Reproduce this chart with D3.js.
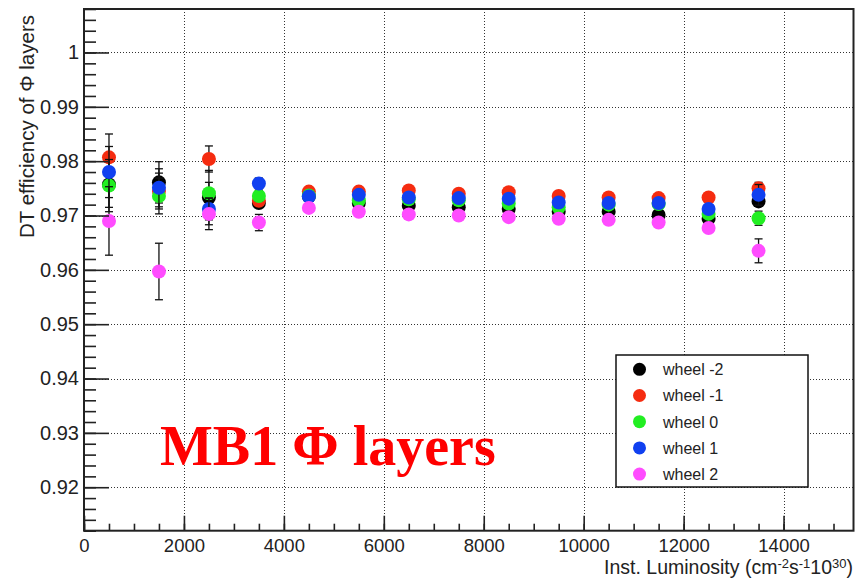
<!DOCTYPE html>
<html>
<head>
<meta charset="utf-8">
<script src="https://cdn.jsdelivr.net/npm/d3@7"></script>
<style>
  body { margin: 0; background: #fff; }
  svg { display: block; }
  .tick text { font-family: "Liberation Sans", Arial, sans-serif; fill: #222; }
</style>
</head>
<body>
<svg id="chart" width="865" height="582"></svg>
<script>
// luminosity bins (x)
const luminosity = [500, 1500, 2500, 3500, 4500, 5500, 6500, 7500, 8500, 9500, 10500, 11500, 12500, 13500];

// efficiency per wheel
const wheelM2 = [0.9757, 0.9761, 0.9733, 0.9723, 0.9735, 0.9723, 0.9718, 0.9715, 0.9712, 0.9707, 0.9707, 0.9701, 0.9694, 0.9726];
const wheelM1 = [0.9807, 0.9745, 0.9804, 0.9727, 0.9744, 0.9744, 0.9746, 0.9740, 0.9743, 0.9736, 0.9733, 0.9732, 0.9733, 0.9750];
const wheel0  = [0.9755, 0.9736, 0.9741, 0.9736, 0.9737, 0.9728, 0.9730, 0.9728, 0.9722, 0.9715, 0.9720, 0.9721, 0.9703, 0.9695];
const wheel1  = [0.9780, 0.9751, 0.9712, 0.9759, 0.9735, 0.9738, 0.9733, 0.9732, 0.9731, 0.9724, 0.9723, 0.9723, 0.9712, 0.9738];
const wheel2  = [0.9690, 0.9597, 0.9703, 0.9687, 0.9714, 0.9707, 0.9702, 0.9700, 0.9697, 0.9694, 0.9692, 0.9687, 0.9677, 0.9635];

// symmetric errors
const errM2 = [0.0042, 0.0038, 0.0050, 0.0006, 0.0004, 0.0004, 0.0004, 0.0004, 0.0004, 0.0004, 0.0004, 0.0005, 0.0005, 0.0006];
const errM1 = [0.0043, 0.0033, 0.0024, 0.0010, 0.0004, 0.0004, 0.0004, 0.0004, 0.0004, 0.0004, 0.0004, 0.0005, 0.0006, 0.0011];
const err0  = [0.0048, 0.0033, 0.0020, 0.0010, 0.0004, 0.0004, 0.0004, 0.0004, 0.0004, 0.0004, 0.0004, 0.0005, 0.0006, 0.0013];
const err1  = [0.0047, 0.0035, 0.0020, 0.0010, 0.0004, 0.0004, 0.0004, 0.0004, 0.0004, 0.0004, 0.0004, 0.0005, 0.0006, 0.0019];
const err2  = [0.0063, 0.0052, 0.0029, 0.0015, 0.0004, 0.0004, 0.0004, 0.0004, 0.0004, 0.0004, 0.0004, 0.0005, 0.0006, 0.0022];

const seriesNames = ['wheel -2', 'wheel -1', 'wheel 0', 'wheel 1', 'wheel 2'];
const seriesColors = ['#000000', '#f52c10', '#22ee22', '#1040f0', '#ff4cff'];

const xMajor = [0, 2000, 4000, 6000, 8000, 10000, 12000, 14000];
const yMajor = [0.92, 0.93, 0.94, 0.95, 0.96, 0.97, 0.98, 0.99, 1.0];

const svg = d3.select('#chart');
const margin = { top: 9, right: 11.5, bottom: 51.3, left: 84 };
const W = +svg.attr('width'), H = +svg.attr('height');
const w = W - margin.left - margin.right;
const h = H - margin.top - margin.bottom;

const x = d3.scaleLinear().domain([0, 15400]).range([0, w]);
const y = d3.scaleLinear().domain([0.912, 1.008]).range([h, 0]);

const g = svg.append('g').attr('transform', `translate(${margin.left},${margin.top})`);

// dotted grid at major ticks
const grid = g.append('g').attr('stroke', '#333').attr('stroke-width', 1).attr('stroke-dasharray', '1,2');
grid.selectAll('line.v')
  .data(xMajor.filter(d => d > 0))
  .enter().append('line')
  .attr('x1', d => Math.round(x(d)) + 0.5).attr('x2', d => Math.round(x(d)) + 0.5)
  .attr('y1', 0).attr('y2', h);
grid.selectAll('line.h')
  .data(yMajor)
  .enter().append('line')
  .attr('y1', d => Math.round(y(d)) + 0.5).attr('y2', d => Math.round(y(d)) + 0.5)
  .attr('x1', 0).attr('x2', w);

// data: error bars then markers, graph after graph (ROOT draw order)
const allValues = [wheelM2, wheelM1, wheel0, wheel1, wheel2];
const allErrors = [errM2, errM1, err0, err1, err2];

allValues.forEach((vals, si) => {
  const pts = vals.map((v, i) => ({ x: luminosity[i], v: v, e: allErrors[si][i] }));
  const sg = g.append('g');

  const eb = sg.append('g').attr('stroke', '#111').attr('stroke-width', 1.3);
  eb.selectAll('line.bar')
    .data(pts).enter().append('line')
    .attr('x1', d => x(d.x)).attr('x2', d => x(d.x))
    .attr('y1', d => y(d.v + d.e)).attr('y2', d => y(d.v - d.e));
  eb.selectAll('line.capTop')
    .data(pts).enter().append('line')
    .attr('x1', d => x(d.x) - 4).attr('x2', d => x(d.x) + 4)
    .attr('y1', d => y(d.v + d.e)).attr('y2', d => y(d.v + d.e));
  eb.selectAll('line.capBot')
    .data(pts).enter().append('line')
    .attr('x1', d => x(d.x) - 4).attr('x2', d => x(d.x) + 4)
    .attr('y1', d => y(d.v - d.e)).attr('y2', d => y(d.v - d.e));

  sg.selectAll('circle')
    .data(pts).enter().append('circle')
    .attr('cx', d => x(d.x))
    .attr('cy', d => y(d.v))
    .attr('r', 7)
    .attr('fill', seriesColors[si]);
});

// axes: ticks inside the frame, ROOT style
const yAxis = d3.axisLeft(y).tickValues(yMajor).tickSize(-25).tickPadding(5)
  .tickFormat(d => d === 1 ? '1' : d3.format('.2f')(d));
const yMinor = d3.axisLeft(y).tickValues(d3.range(912, 1009, 2).map(d => d / 1000))
  .tickSize(-12).tickFormat('');
const xAxis = d3.axisBottom(x).tickValues(xMajor).tickSize(-15).tickPadding(8.5)
  .tickFormat(d3.format('d'));
const xMinor = d3.axisBottom(x).tickValues(d3.range(0, 15401, 500))
  .tickSize(-7).tickFormat('');

[[yMinor, 'translate(0,0)'], [xMinor, `translate(0,${h})`]].forEach(([ax, tr]) => {
  const a = g.append('g').attr('transform', tr).call(ax);
  a.select('.domain').remove();
  a.selectAll('.tick line').attr('stroke', '#222').attr('stroke-width', 1.6);
});

const ya = g.append('g').call(yAxis);
ya.select('.domain').remove();
ya.selectAll('.tick line').attr('stroke', '#222').attr('stroke-width', 1.6);
ya.selectAll('.tick text').attr('font-size', 20);

const xa = g.append('g').attr('transform', `translate(0,${h})`).call(xAxis);
xa.select('.domain').remove();
xa.selectAll('.tick line').attr('stroke', '#222').attr('stroke-width', 1.6);
xa.selectAll('.tick text').attr('font-size', 18.5);

// frame
g.append('rect')
  .attr('x', 0).attr('y', 0).attr('width', w).attr('height', h)
  .attr('fill', 'none').attr('stroke', '#222').attr('stroke-width', 2);

// axis titles
svg.append('text')
  .attr('transform', 'rotate(-90)')
  .attr('x', -15).attr('y', 34)
  .attr('text-anchor', 'end')
  .attr('font-family', '"Liberation Sans", Arial, sans-serif')
  .attr('font-size', 20.5)
  .attr('fill', '#222')
  .text('DT efficiency of Φ layers');

const xt = svg.append('text')
  .attr('x', 853).attr('y', 574)
  .attr('text-anchor', 'end')
  .attr('font-family', '"Liberation Sans", Arial, sans-serif')
  .attr('font-size', 19.5)
  .attr('fill', '#222');
xt.append('tspan').text('Inst. Luminosity (cm');
xt.append('tspan').attr('dy', -6.5).attr('font-size', 13).text('-2');
xt.append('tspan').attr('dy', 6.5).text('s');
xt.append('tspan').attr('dy', -6.5).attr('font-size', 13).text('-1');
xt.append('tspan').attr('dy', 6.5).text('10');
xt.append('tspan').attr('dy', -6.5).attr('font-size', 13).text('30');
xt.append('tspan').attr('dy', 6.5).text(')');

// legend
const lg = svg.append('g').attr('transform', 'translate(616,355)');
lg.append('rect')
  .attr('width', 192).attr('height', 132)
  .attr('fill', '#fff').attr('stroke', '#111').attr('stroke-width', 1.5);
const le = lg.selectAll('g.entry')
  .data(seriesNames).enter().append('g')
  .attr('transform', (d, i) => `translate(0,${14.3 + i * 26.2})`);
le.append('circle')
  .attr('cx', 23.5).attr('cy', 0).attr('r', 6.5)
  .attr('fill', (d, i) => seriesColors[i]);
le.append('text')
  .attr('x', 47).attr('y', 5.8)
  .attr('font-family', '"Liberation Sans", Arial, sans-serif')
  .attr('font-size', 16)
  .attr('fill', '#222')
  .text(d => d);

// big label
svg.append('text')
  .attr('x', 160).attr('y', 465)
  .attr('font-family', '"Liberation Serif", "Times New Roman", serif')
  .attr('font-weight', 'bold')
  .attr('font-size', 56)
  .attr('fill', '#f00')
  .text('MB1 Φ layers');
</script>
</body>
</html>
